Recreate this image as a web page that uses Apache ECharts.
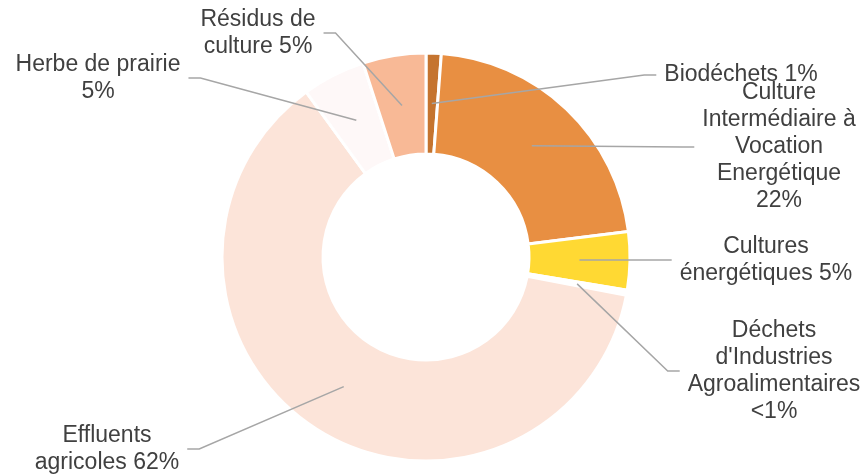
<!DOCTYPE html>
<html>
<head>
<meta charset="utf-8">
<script src="https://cdn.jsdelivr.net/npm/echarts@6/dist/echarts.min.js"></script>
<style>
  html, body { margin: 0; padding: 0; background: #fff; }
  #chart { width: 866px; height: 474px; }
</style>
</head>
<body>
<div id="chart"></div>
<script>
// data, clockwise from 12 o'clock
const categories = [
  'Biodéchets',
  'Culture Intermédiaire à Vocation Energétique',
  'Cultures énergétiques',
  "Déchets d'Industries Agroalimentaires",
  'Effluents agricoles',
  'Herbe de prairie',
  'Résidus de culture'
]
const shares = [1.2, 21.8, 4.6, 0.4, 62, 5, 5]
const labelTexts = [
  'Biodéchets 1%',
  'Culture\nIntermédiaire à\nVocation\nEnergétique\n22%',
  'Cultures\nénergétiques 5%',
  "Déchets\nd'Industries\nAgroalimentaires\n<1%",
  'Effluents\nagricoles 62%',
  'Herbe de prairie\n5%',
  'Résidus de\nculture 5%'
]
const colors = ['#c5742f', '#e88f42', '#ffd933', '#ffffff', '#fce4d9', '#fef8f8', '#f8b996']

// layout: label centres and which side the leader line attaches to
const cx = 426, cy = 257, rIn = 103, rOut = 204
const labelPos = [
  [741, 75, 'right'],
  [779, 147, 'right'],
  [766, 260, 'right'],
  [774, 371, 'right'],
  [107, 449, 'left'],
  [98, 78, 'left'],
  [258, 33, 'left']
]

const total = shares.reduce((a, b) => a + b, 0)
const midAngles = []
let acc = 0
shares.forEach(v => {
  midAngles.push((acc + v / 2) / total * Math.PI * 2)
  acc += v
})

const seriesData = categories.map((name, i) => ({
  name,
  value: shares[i],
  itemStyle: { color: colors[i] }
}))

const chart = echarts.init(document.getElementById('chart'))

chart.setOption({
  animation: false,
  series: [
    // the ring itself
    {
      type: 'pie',
      z: 2,
      center: [cx, cy],
      radius: [rIn, rOut],
      startAngle: 90,
      clockwise: true,
      silent: true,
      itemStyle: { borderColor: '#fff', borderWidth: 3 },
      label: { show: false },
      labelLine: { show: false },
      data: seriesData
    },
    // transparent copy on top, only for labels so leader lines sit over the slices
    {
      type: 'pie',
      z: 10,
      center: [cx, cy],
      radius: [rIn, rOut],
      startAngle: 90,
      clockwise: true,
      silent: true,
      avoidLabelOverlap: false,
      itemStyle: { color: 'rgba(0,0,0,0)', borderWidth: 0 },
      label: {
        show: true,
        position: 'outside',
        formatter: (p) => labelTexts[p.dataIndex],
        color: '#404040',
        fontFamily: 'Liberation Sans, Arial, sans-serif',
        fontSize: 23,
        lineHeight: 27,
        align: 'center'
      },
      labelLine: {
        show: true,
        lineStyle: { color: '#a6a6a6', width: 1.5 }
      },
      labelLayout: (params) => {
        const i = params.dataIndex
        const [lx, ly, side] = labelPos[i]
        const w = params.labelRect.width
        const a = midAngles[i]
        const rm = (rIn + rOut) / 2
        const start = [cx + rm * Math.sin(a), cy - rm * Math.cos(a)]
        let endX, bendX
        if (side === 'right') {
          endX = lx - w / 2 - 8
          bendX = endX - 12
        } else {
          endX = lx + w / 2 + 8
          bendX = endX + 12
        }
        return {
          x: lx,
          y: ly,
          align: 'center',
          verticalAlign: 'middle',
          labelLinePoints: [start, [bendX, ly], [endX, ly]]
        }
      },
      data: categories.map((name, i) => ({ name, value: shares[i] }))
    }
  ]
})
</script>
</body>
</html>
